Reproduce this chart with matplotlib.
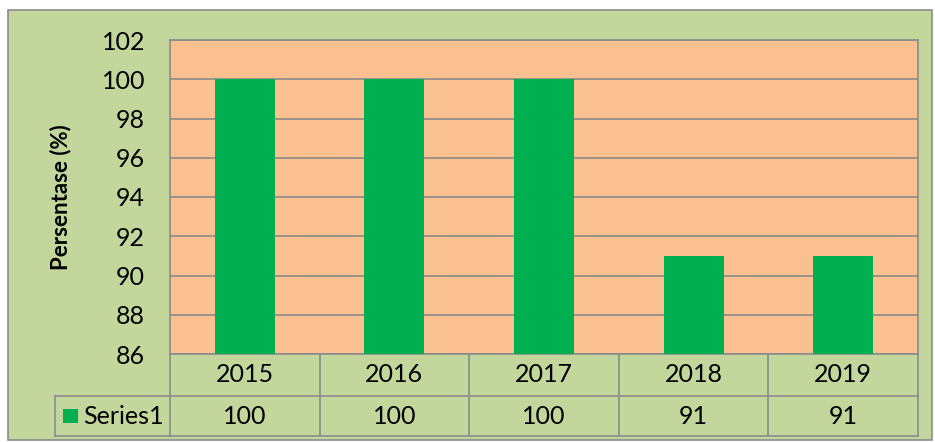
import matplotlib.pyplot as plt
from matplotlib.patches import Rectangle
from matplotlib.transforms import blended_transform_factory

years = ["2015", "2016", "2017", "2018", "2019"]
values = [100, 100, 100, 91, 91]
series_name = "Series1"
yticks = [86, 88, 90, 92, 94, 96, 98, 100, 102]

bg = "#C3D69B"
plot_bg = "#FAC090"
bar_col = "#00B050"
grid_col = "#8C8C8C"

plt.rcParams["font.family"] = ["Lato", "DejaVu Sans"]
fs = 18

fig = plt.figure(figsize=(9.35, 4.42), dpi=100)
fig.patch.set_facecolor("white")
# outer chart frame, kept behind the axes
fig.patches.append(Rectangle((8 / 935, 2 / 442), 924 / 935, 430 / 442,
                             transform=fig.transFigure, facecolor=bg,
                             edgecolor="#8C8C8C", linewidth=1.2, zorder=-5))

ax = fig.add_axes([170 / 935, (442 - 354) / 442, 748 / 935, 314 / 442])
ax.set_facecolor(plot_bg)
x = list(range(len(years)))
ax.bar(x, values, width=0.4, color=bar_col, zorder=3)
ax.set_xlim(-0.5, len(years) - 0.5)
ax.set_ylim(86, 102)
ax.set_yticks(yticks)
ax.set_yticklabels([str(t) for t in yticks], fontsize=fs)
ax.tick_params(axis="y", length=0, pad=18)
ax.set_xticks([])
ax.yaxis.grid(True, color=grid_col, linewidth=1.2, zorder=1)
ax.set_axisbelow(True)
for s in ax.spines.values():
    s.set_color(grid_col)
    s.set_linewidth(1.2)
ax.set_ylabel("Persentase (%)", fontsize=16, fontweight="bold", labelpad=22)

# data table under the plot
tr = blended_transform_factory(ax.transData, ax.transAxes)
h1 = 42 / 314
h2 = 82 / 314
lw = 1.2
for i in range(len(years) + 1):
    ax.plot([i - 0.5, i - 0.5], [0, -h2], transform=tr, color=grid_col,
            lw=lw, clip_on=False)
ax.plot([-0.5, len(years) - 0.5], [-h1, -h1], transform=tr, color=grid_col,
        lw=lw, clip_on=False)
ax.plot([-0.5, len(years) - 0.5], [-h2, -h2], transform=tr, color=grid_col,
        lw=lw, clip_on=False)
for i, (yr, v) in enumerate(zip(years, values)):
    ax.text(i, -h1 / 2, yr, transform=tr, ha="center", va="center", fontsize=fs)
    ax.text(i, -(h1 + h2) / 2, str(v), transform=tr, ha="center",
            va="center", fontsize=fs)

# legend cell
lx = (55 - 170) / 748
ax.plot([lx, 0], [-h1, -h1], transform=ax.transAxes, color=grid_col, lw=lw,
        clip_on=False)
ax.plot([lx, 0], [-h2, -h2], transform=ax.transAxes, color=grid_col, lw=lw,
        clip_on=False)
ax.plot([lx, lx], [-h1, -h2], transform=ax.transAxes, color=grid_col, lw=lw,
        clip_on=False)
ax.add_patch(Rectangle(((63 - 170) / 748, -(h1 + h2) / 2 - 7 / 314),
                       15 / 748, 14 / 314, transform=ax.transAxes,
                       facecolor=bar_col, edgecolor="none", clip_on=False))
ax.text((83 - 170) / 748, -(h1 + h2) / 2, series_name, transform=ax.transAxes,
        ha="left", va="center", fontsize=fs)

fig.savefig("out.png", dpi=100)
